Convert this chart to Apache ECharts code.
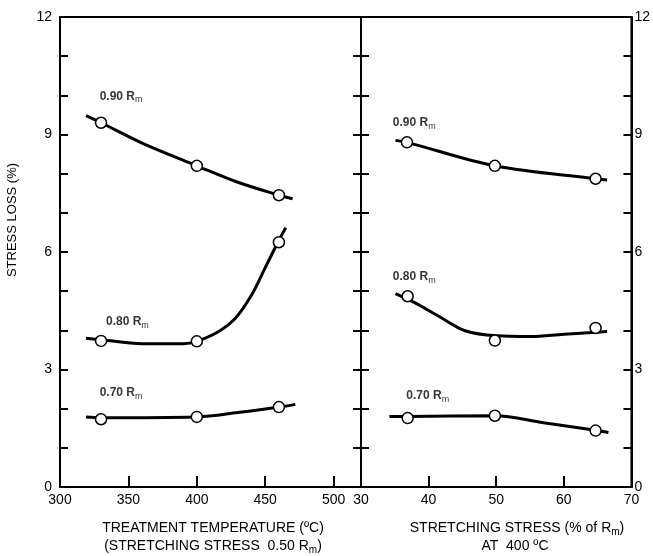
<!DOCTYPE html>
<html>
<head>
<meta charset="utf-8">
<script src="https://cdn.jsdelivr.net/npm/echarts@6/dist/echarts.min.js"></script>
<style>html,body{margin:0;padding:0;background:#fff}#c{width:653px;height:556px}</style>
</head>
<body>
<div id="c"></div>
<script>
// ---- Data ----
// Left panel: treatment temperature (°C) vs stress loss (%)
const tempPoints90 = [[330, 9.3], [400, 8.2], [460, 7.45]];
const tempCurve90 = [[319, 9.48], [330, 9.3], [360, 8.78], [400, 8.2], [430, 7.78], [460, 7.45], [470, 7.36]];
const tempPoints80 = [[330, 3.73], [400, 3.72], [460, 6.25]];
const tempCurve80 = [[319, 3.8], [330, 3.76], [360, 3.66], [390, 3.66], [400, 3.72], [415, 3.95], [428, 4.3], [440, 4.9], [450, 5.6], [460, 6.3], [465, 6.62]];
const tempPoints70 = [[330, 1.73], [400, 1.79], [460, 2.04]];
const tempCurve70 = [[319, 1.79], [330, 1.77], [400, 1.79], [430, 1.9], [460, 2.04], [472, 2.11]];
// Right panel: stretching stress (% of Rm) at 400 °C vs stress loss (%)
const stressPoints90 = [[36.8, 8.8], [49.8, 8.2], [64.7, 7.87]];
const stressCurve90 = [[35.1, 8.85], [36.8, 8.8], [49.8, 8.2], [64.7, 7.87], [66.4, 7.84]];
const stressPoints80 = [[36.9, 4.87], [49.8, 3.74], [64.7, 4.06]];
const stressCurve80 = [[35.1, 4.94], [38, 4.7], [41.5, 4.36], [45.4, 3.99], [50, 3.86], [55, 3.84], [60, 3.9], [66.4, 3.97]];
const stressPoints70 = [[36.9, 1.76], [49.8, 1.82], [64.7, 1.44]];
const stressCurve70 = [[34.2, 1.8], [36.9, 1.8], [49.8, 1.82], [57, 1.64], [64.7, 1.45], [66.6, 1.39]];
// Curve labels (text and anchor in data coordinates)
const curveLabelsLeft = [['0.90', 329, 9.97], ['0.80', 333.6, 4.22], ['0.70', 329, 2.4]];
const curveLabelsRight = [['0.90', 34.7, 9.3], ['0.80', 34.7, 5.37], ['0.70', 36.7, 2.33]];
// Axes
const yTickLabels = [0, 3, 6, 9, 12];
const xLeftTicks = [300, 350, 400, 450, 500];
const xRightTicks = [30, 40, 50, 60, 70];

const chart = echarts.init(document.getElementById('c'), null, {renderer: 'canvas'});
const FONT = 'Liberation Sans, Arial, sans-serif';
const black = '#000';

function yAxisCfg(gridIndex, position, showLabels) {
  return {
    type: 'value', gridIndex, position, min: 0, max: 12, interval: 1,
    axisLine: {show: true, lineStyle: {color: black, width: 2}},
    axisTick: {show: true, inside: true, length: 8, lineStyle: {color: black, width: 2}},
    axisLabel: {
      show: showLabels, margin: position === 'left' ? 8 : 3, color: black, fontFamily: FONT, fontSize: 14,
      formatter: v => (yTickLabels.indexOf(v) >= 0 ? String(v) : '')
    },
    splitLine: {show: false}
  };
}
function xAxisCfg(gridIndex, min, max, interval, ticks, showMax) {
  return {
    type: 'value', gridIndex, min, max, interval, position: 'bottom',
    axisLine: {show: true, lineStyle: {color: black, width: 2}},
    axisTick: {show: true, inside: true, length: 11, lineStyle: {color: black, width: 2}},
    axisLabel: {
      show: true, margin: 6, color: black, fontFamily: FONT, fontSize: 14,
      showMaxLabel: showMax,
      formatter: v => (ticks.indexOf(v) >= 0 ? String(v) : '')
    },
    splitLine: {show: false}
  };
}
function curve(name, xi, yi, data) {
  return {
    name, type: 'line', xAxisIndex: xi, yAxisIndex: yi, data, smooth: 0.35,
    showSymbol: false, symbol: 'none', lineStyle: {color: black, width: 3}, z: 2, silent: true
  };
}
function pts(name, xi, yi, data) {
  return {
    name, type: 'scatter', xAxisIndex: xi, yAxisIndex: yi, data, symbol: 'circle', symbolSize: 11,
    itemStyle: {color: '#fff', borderColor: black, borderWidth: 1.5, opacity: 1}, z: 5, silent: true
  };
}
const richLabel = {
  a: {fontFamily: FONT, fontSize: 12, fontWeight: 'bold', color: black},
  s: {fontFamily: FONT, fontSize: 9, color: black, padding: [7, 0, 0, 0]}
};
const richTitle = {
  a: {fontFamily: FONT, fontSize: 14, color: black},
  s: {fontFamily: FONT, fontSize: 10, color: black, padding: [8, 0, 0, 0]}
};
function labels(xi, yi, arr) {
  return {
    type: 'scatter', xAxisIndex: xi, yAxisIndex: yi, symbolSize: 0, silent: true,
    data: arr.map(d => ({value: [d[1], d[2]], name: d[0]})),
    label: {
      show: true, position: 'right', distance: 0,
      formatter: p => '{a|' + p.name + ' R}{s|m}', rich: richLabel
    }, z: 6
  };
}

const option = {
  animation: false,
  backgroundColor: '#fff',
  grid: [
    {left: 60, top: 17, width: 301, height: 470, show: true, borderColor: black, borderWidth: 2, backgroundColor: 'transparent'},
    {left: 361, top: 17, width: 273, height: 470, show: true, borderColor: black, borderWidth: 2, backgroundColor: 'transparent'}
  ],
  xAxis: [
    xAxisCfg(0, 300, 520, 50, xLeftTicks, false),
    xAxisCfg(1, 30, 70, 10, xRightTicks, true)
  ],
  yAxis: [
    yAxisCfg(0, 'left', true),
    yAxisCfg(0, 'right', false),
    yAxisCfg(1, 'left', false),
    yAxisCfg(1, 'right', true)
  ],
  series: [
    curve('L90', 0, 0, tempCurve90), curve('L80', 0, 0, tempCurve80), curve('L70', 0, 0, tempCurve70),
    pts('L90p', 0, 0, tempPoints90), pts('L80p', 0, 0, tempPoints80), pts('L70p', 0, 0, tempPoints70),
    curve('R90', 1, 2, stressCurve90), curve('R80', 1, 2, stressCurve80), curve('R70', 1, 2, stressCurve70),
    pts('R90p', 1, 2, stressPoints90), pts('R80p', 1, 2, stressPoints80), pts('R70p', 1, 2, stressPoints70),
    labels(0, 0, curveLabelsLeft), labels(1, 2, curveLabelsRight)
  ],
  graphic: [
    {type: 'text', x: 6, y: 220, rotation: Math.PI / 2, originX: 0, originY: 0,
      style: {text: 'STRESS LOSS (%)', fontFamily: FONT, fontSize: 13, fill: black, align: 'center', verticalAlign: 'top'}},
    {type: 'text', x: 213, y: 528, style: {text: 'TREATMENT TEMPERATURE (ºC)', fontFamily: FONT, fontSize: 14, fill: black, align: 'center', verticalAlign: 'middle'}},
    {type: 'text', x: 213, y: 546, style: {text: '{a|(STRETCHING STRESS  0.50 R}{s|m}{a|)}', rich: richTitle, align: 'center', verticalAlign: 'middle'}},
    {type: 'text', x: 517, y: 528, style: {text: '{a|STRETCHING STRESS (% of R}{s|m}{a|)}', rich: richTitle, align: 'center', verticalAlign: 'middle'}},
    {type: 'text', x: 515, y: 546, style: {text: 'AT  400 ºC', fontFamily: FONT, fontSize: 14, fill: black, align: 'center', verticalAlign: 'middle'}}
  ]
};
chart.setOption(option);
</script>
</body>
</html>
